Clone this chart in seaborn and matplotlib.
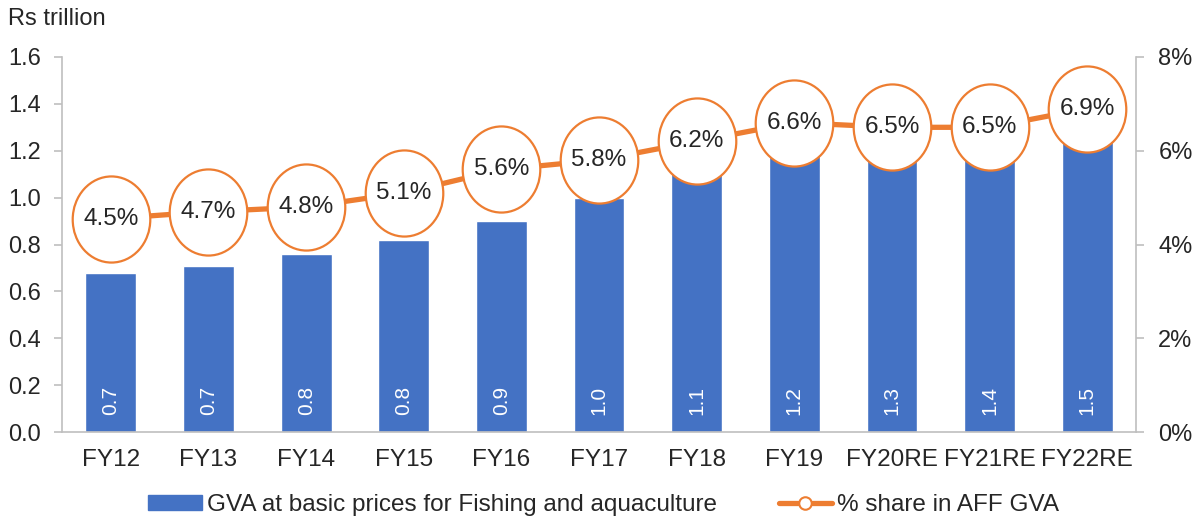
import numpy as np
import pandas as pd
import matplotlib.pyplot as plt
import seaborn as sns
from matplotlib.path import Path
from matplotlib.transforms import Affine2D
from matplotlib.lines import Line2D
from matplotlib.patches import Patch

sns.set_style('white')
plt.rcParams['font.family'] = ['Liberation Sans', 'DejaVu Sans']

# data
years = ['FY12', 'FY13', 'FY14', 'FY15', 'FY16', 'FY17', 'FY18', 'FY19', 'FY20RE', 'FY21RE', 'FY22RE']
gva = [0.68, 0.71, 0.76, 0.82, 0.90, 1.00, 1.12, 1.22, 1.30, 1.40, 1.50]
gva_labels = ['0.7', '0.7', '0.8', '0.8', '0.9', '1.0', '1.1', '1.2', '1.3', '1.4', '1.5']
share = [4.55, 4.7, 4.8, 5.1, 5.6, 5.8, 6.2, 6.6, 6.5, 6.5, 6.9]
share_labels = ['4.5%', '4.7%', '4.8%', '5.1%', '5.6%', '5.8%', '6.2%', '6.6%', '6.5%', '6.5%', '6.9%']

blue = '#4472C4'
orange = '#ED7D31'
grey = '#BFBFBF'

df = pd.DataFrame({'year': years, 'gva': gva, 'share': share})

fig = plt.figure(figsize=(12, 5.19), dpi=100)
ax = fig.add_axes([0.0517, 0.1676, 0.895, 0.7226])

sns.barplot(data=df, x='year', y='gva', color=blue, saturation=1, width=0.52, ax=ax)
for i, lab in enumerate(gva_labels):
    ax.text(i, 0.134, lab, rotation=90, ha='center', va='center', color='white', fontsize=15)

ax.set_ylim(0, 1.6)
ax.set_yticks(np.arange(0, 1.61, 0.2))
ax.set_yticklabels([f'{v:.1f}' for v in np.arange(0, 1.61, 0.2)], fontsize=17)
ax.set_xlim(-0.5, len(years) - 0.5)
ax.set_xlabel('')
ax.set_ylabel('')
ax.tick_params(axis='x', which='major', length=0, pad=12, labelsize=17.5)
ax.set_xticks(np.arange(-0.5, len(years), 1), minor=True)
ax.tick_params(axis='x', which='minor', length=6, color=grey, width=1.2)
ax.tick_params(axis='y', length=6, color=grey, width=1.2, pad=9, left=True)
for s in ['top', 'right']:
    ax.spines[s].set_visible(False)
for s in ['left', 'bottom']:
    ax.spines[s].set_color(grey)
    ax.spines[s].set_linewidth(1.2)

# share line on the right axis
ax2 = ax.twinx()
ellipse = Path.unit_circle().transformed(Affine2D().scale(1, 1.11))
sns.lineplot(x=np.arange(len(years)), y=share, ax=ax2, color=orange, linewidth=3.8,
             marker=ellipse, markersize=62, markerfacecolor='white',
             markeredgecolor=orange, markeredgewidth=1.6, zorder=3)
for i, v in enumerate(share):
    ax2.text(i, v, share_labels[i], ha='center', va='center', fontsize=17.5, zorder=5)

ax2.set_ylim(0, 8)
ax2.set_yticks([0, 2, 4, 6, 8])
ax2.set_yticklabels([f'{v}%' for v in [0, 2, 4, 6, 8]], fontsize=17)
ax2.tick_params(axis='y', length=6, color=grey, width=1.2, pad=10, right=True)
for s in ['top', 'left', 'bottom']:
    ax2.spines[s].set_visible(False)
ax2.spines['right'].set_color(grey)
ax2.spines['right'].set_linewidth(1.2)
ax2.set_ylabel('')

fig.text(0.007, 0.963, 'Rs trillion', fontsize=17, ha='left', va='center')

handles = [Patch(facecolor=blue, edgecolor=blue),
           Line2D([0], [0], color=orange, linewidth=3.8, marker='o', markersize=9,
                  markerfacecolor='white', markeredgecolor=orange, markeredgewidth=1.5)]
fig.legend(handles, ['GVA at basic prices for Fishing and aquaculture', '% share in AFF GVA'],
           loc='center', bbox_to_anchor=(0.503, 0.027), ncol=2, frameon=False, fontsize=17.5,
           handlelength=2.2, handleheight=0.55, columnspacing=2.55, handletextpad=0.2)

plt.savefig('out.png', dpi=100)
